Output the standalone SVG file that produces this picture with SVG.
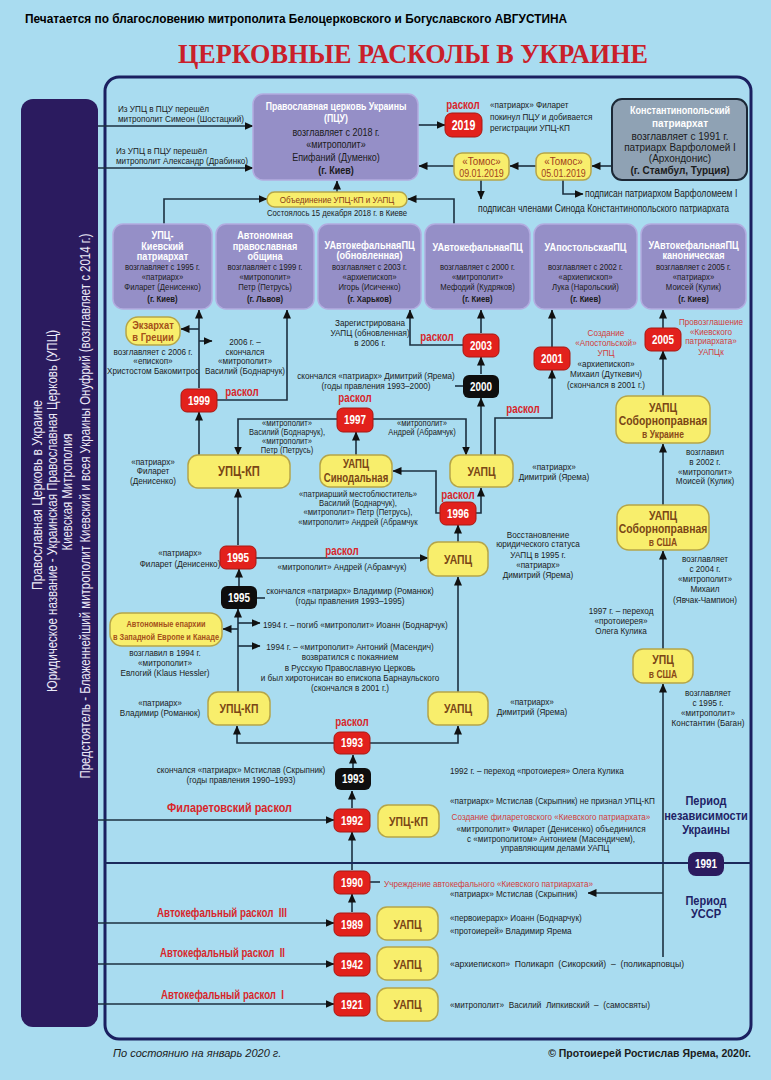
<svg xmlns="http://www.w3.org/2000/svg" width="771" height="1080" viewBox="0 0 771 1080">
<defs>
<marker id="ah" markerWidth="9" markerHeight="8" refX="8.5" refY="4" orient="auto" markerUnits="userSpaceOnUse"><path d="M0,0 L9,4 L0,8 z" fill="#111"/></marker>
</defs>
<style>
text{font-family:"Liberation Sans Narrow","Liberation Sans",Arial,sans-serif;}
.s,.sl,.rs,.m,.bt,.yt,.ys,.nt,.rk,.pn,.tm{transform-box:fill-box;transform-origin:center}
.s{font-size:9.5px;fill:#1b1b1b;text-anchor:middle;transform:scaleX(.86)}
.sl{font-size:9.5px;fill:#1b1b1b;transform:scaleX(.86);transform-origin:left center}
.m{font-size:10px;fill:#1b1b1b;text-anchor:middle;transform:scaleX(.9)}
.bt{font-size:11px;font-weight:bold;fill:#fff;text-anchor:middle;transform:scaleX(.83)}
.bk{font-weight:bold}
.yt{font-size:13px;font-weight:bold;fill:#7a4616;text-anchor:middle;transform:scaleX(.8)}
.ys{font-size:10px;font-weight:bold;fill:#8a4a18;text-anchor:middle;transform:scaleX(.85)}
.nt{font-size:13px;font-weight:bold;fill:#fff;text-anchor:middle;transform:scaleX(.76)}
.rk{font-size:12.5px;font-weight:bold;fill:#d8262a;text-anchor:middle;transform:scaleX(.78)}
.rs{font-size:9.5px;fill:#d23c3c;text-anchor:middle;transform:scaleX(.86)}
.st{text-anchor:start;transform-origin:left center}
.pn{font-size:12px;font-weight:bold;fill:#1f2366;text-anchor:middle;transform:scaleX(.92)}
.vt{font-size:14px;fill:#ebe9f7;text-anchor:middle}
.tm{font-size:11.5px;font-weight:normal;fill:#a0401c;text-anchor:middle;transform:scaleX(.85)}
.nx{transform:none}
.pb{fill:#958fc7;stroke:#b2ace0;stroke-width:1.5}
.yb{fill:#f8ee6c;stroke:#b5a548;stroke-width:1.5}
.rb{fill:#e2211c;stroke:#a81812;stroke-width:1}
.kb{fill:#0e0e0e}
.c{fill:none;stroke:#1c3040;stroke-width:1.6}
.ca{fill:none;stroke:#1c3040;stroke-width:1.6;marker-end:url(#ah)}
</style>
<rect width="771" height="1080" fill="#a9dcf0"/>
<text x="296" y="23" font-size="12" font-weight="bold" text-anchor="middle" textLength="542" lengthAdjust="spacingAndGlyphs" style="font-family:'Liberation Sans',Arial,sans-serif">Печатается по благословению митрополита Белоцерковского и Богуславского АВГУСТИНА</text>
<text x="413" y="63" font-size="28" font-weight="bold" fill="#c9202a" text-anchor="middle" textLength="470" lengthAdjust="spacingAndGlyphs" style="font-family:'Liberation Serif','Times New Roman',serif">ЦЕРКОВНЫЕ РАСКОЛЫ В УКРАИНЕ</text>

<rect x="105" y="77" width="646" height="962" rx="14" fill="none" stroke="#1b2060" stroke-width="3"/>

<g id="panel">
<rect x="21" y="99" width="77" height="928" rx="12" fill="#2b1b5f"/>
<text class="vt" transform="translate(42,495) rotate(-90)" textLength="190" lengthAdjust="spacingAndGlyphs">Православная Церковь в Украине</text>
<text class="vt" transform="translate(57,511) rotate(-90)" textLength="362" lengthAdjust="spacingAndGlyphs">Юридическое название - Украинская Православная Церковь (УПЦ)</text>
<text class="vt" transform="translate(72,492) rotate(-90)" textLength="117" lengthAdjust="spacingAndGlyphs">Киевская Митрополия</text>
<text class="vt" transform="translate(90,506) rotate(-90)" textLength="545" lengthAdjust="spacingAndGlyphs">Предстоятель - Блаженнейший митрополит Киевский и всея Украины Онуфрий (возглавляет с 2014 г.)</text>
</g>

<g id="connectors">
<path class="ca" d="M98,126 H253"/>
<path class="ca" d="M98,168 H253"/>
<path class="ca" d="M418,125 H445"/>
<path class="ca" d="M612,166 H592"/>
<path class="ca" d="M536,166 H510"/>
<path class="ca" d="M454,166 H419"/>
<path class="ca" d="M481,180 V199"/>
<path class="ca" d="M563,180 V194 H583"/>
<path class="ca" d="M337,192 V181"/>
<path class="ca" d="M164,224 V199 H267"/>
<path class="ca" d="M454,224 V199 H408"/>
<path class="ca" d="M199,455 V412"/>
<path class="ca" d="M199,388 V310"/>
<path class="ca" d="M199,329 H181"/>
<path class="ca" d="M199,341 H212"/>
<path class="ca" d="M217,400 H287 V310"/>
<path class="ca" d="M337,419 H238 V455"/>
<path class="ca" d="M373,419 H466 V455"/>
<path class="ca" d="M356,455 V432"/>
<path class="ca" d="M440,513 H436 V471 H393"/>
<path class="ca" d="M476,513 H481 V488"/>
<path class="ca" d="M458,542 V525"/>
<path class="ca" d="M481,455 V398"/>
<path class="ca" d="M481,374 V357"/>
<path class="ca" d="M481,333 V310"/>
<path class="ca" d="M463,345 H410 V310"/>
<path class="c" d="M455,386 H463"/>
<path class="ca" d="M495,455 V418 H552 V370"/>
<path class="ca" d="M552,347 V310"/>
<path class="ca" d="M663,328 V310"/>
<path class="ca" d="M663,396 V351"/>
<path class="ca" d="M663,505 V444"/>
<path class="ca" d="M663,649 V551"/>
<path class="ca" d="M663,957 V684"/>
<path class="ca" d="M663,893 H588"/>
<path class="ca" d="M238,545 V489"/>
<path class="ca" d="M256,558 H428"/>
<path class="ca" d="M239,586 V569"/>
<path class="c" d="M257,598 H265"/>
<path class="ca" d="M238,692 V609"/>
<path class="ca" d="M238,629 H223"/>
<path class="ca" d="M238,623 H260"/>
<path class="ca" d="M238,646 H260"/>
<path class="ca" d="M334,743 H237 V726"/>
<path class="ca" d="M370,743 H458 V726"/>
<path class="ca" d="M458,692 V577"/>
<path class="ca" d="M353,768 V755"/>
<path class="ca" d="M352,808 V791"/>
<path class="ca" d="M98,820 H334"/>
<path class="ca" d="M352,870 V832"/>
<path class="c" d="M370,882 H380"/>
<path class="ca" d="M352,912 V894"/>
<path class="ca" d="M98,923 H334"/>
<path class="ca" d="M98,964 H334"/>
<path class="ca" d="M98,1004 H334"/>
<path d="M105,863 H751" fill="none" stroke="#1b2a5c" stroke-width="2"/>
</g>

<g id="notes">
<text class="sl" x="118" y="112">Из УПЦ в ПЦУ перешёл</text>
<text class="sl" x="118" y="122">митрополит Симеон (Шостацкий)</text>
<text class="sl" x="116" y="154">Из УПЦ в ПЦУ перешёл</text>
<text class="sl" x="116" y="164">митрополит Александр (Драбинко)</text>
<text class="rk" x="463" y="109">раскол</text>
<text class="sl" x="490" y="108">«патриарх» Филарет</text>
<text class="sl" x="490" y="120">покинул ПЦУ и добивается</text>
<text class="sl" x="490" y="131">регистрации УПЦ-КП</text>
<text class="sl" x="585" y="197" style="font-size:10px">подписан патриархом Варфоломеем I</text>
<text class="sl" x="478" y="212" style="font-size:10px">подписан членами Синода Константинопольского патриархата</text>
<text class="s" x="337" y="216" style="font-size:9px">Состоялось 15 декабря 2018 г. в Киеве</text>
</g>

<g id="pcu">
<rect class="pb" x="253" y="94" width="165" height="86" rx="10"/>
<text class="bt" x="336" y="110" style="font-size:10.5px">Православная церковь Украины</text>
<text class="bt" x="336" y="122" style="font-size:10.5px">(ПЦУ)</text>
<text class="m" x="336" y="136">возглавляет с 2018 г.</text>
<text class="m" x="336" y="148">«митрополит»</text>
<text class="m" x="336" y="161">Епифаний (Думенко)</text>
<text class="m bk" x="336" y="174">(г. Киев)</text>
</g>

<g id="n2019"><rect class="rb" x="445" y="113" width="37" height="24" rx="7"/><text class="nt" x="463.5" y="130" style="font-size:14px">2019</text></g>

<g id="konst">
<rect x="612" y="99" width="135" height="81" rx="10" fill="#8fa2b4" stroke="#1c2836" stroke-width="2"/>
<text class="bt nx" x="680" y="114" style="font-size:11.5px" textLength="100" lengthAdjust="spacingAndGlyphs">Константинопольский</text>
<text class="bt nx" x="680" y="127" style="font-size:11.5px" textLength="56" lengthAdjust="spacingAndGlyphs">патриархат</text>
<text class="m nx" x="680" y="140">возглавляет с 1991 г.</text>
<text class="m nx" x="680" y="151">патриарх Варфоломей I</text>
<text class="m nx" x="680" y="162">(Архондонис)</text>
<text class="m bk nx" x="680" y="174">(г. Стамбул, Турция)</text>
</g>

<g id="tomos1"><rect class="yb" x="454" y="153" width="55" height="27" rx="8"/><text class="tm" x="481.5" y="165">«Томос»</text><text class="tm" x="481.5" y="177" style="font-size:10.5px">09.01.2019</text></g>
<g id="tomos2"><rect class="yb" x="536" y="153" width="55" height="27" rx="8"/><text class="tm" x="563.5" y="165">«Томос»</text><text class="tm" x="563.5" y="177" style="font-size:10.5px">05.01.2019</text></g>
<g id="union"><rect class="yb" x="267" y="192" width="140" height="15" rx="7.5"/><text class="ys" x="337" y="203" style="font-size:9.5px;fill:#8a3a18;font-weight:normal">Объединение УПЦ-КП и УАПЦ</text></g>

<g id="b1"><rect class="pb" x="113" y="224" width="99" height="85" rx="10"/>
<text class="bt" x="162.5" y="239">УПЦ-</text><text class="bt" x="162.5" y="250">Киевский</text><text class="bt" x="162.5" y="260">патриархат</text>
<text class="s" x="162.5" y="270" style="font-size:9px">возглавляет с 1995 г.</text><text class="s" x="162.5" y="280" style="font-size:9px">«патриарх»</text><text class="s" x="162.5" y="290" style="font-size:9px">Филарет (Денисенко)</text><text class="s bk" x="162.5" y="302" style="font-size:9px">(г. Киев)</text></g>
<g id="b2"><rect class="pb" x="216" y="224" width="98" height="85" rx="10"/>
<text class="bt" x="265" y="239">Автономная</text><text class="bt" x="265" y="250">православная</text><text class="bt" x="265" y="260">община</text>
<text class="s" x="265" y="270" style="font-size:9px">возглавляет с 1999 г.</text><text class="s" x="265" y="280" style="font-size:9px">«митрополит»</text><text class="s" x="265" y="290" style="font-size:9px">Петр (Петрусь)</text><text class="s bk" x="265" y="302" style="font-size:9px">(г. Львов)</text></g>
<g id="b3"><rect class="pb" x="318" y="224" width="103" height="85" rx="10"/>
<text class="bt" x="369.5" y="249">УАвтокефальнаяПЦ</text><text class="bt" x="369.5" y="259">(обновленная)</text>
<text class="s" x="369.5" y="270" style="font-size:9px">возглавляет с 2003 г.</text><text class="s" x="369.5" y="280" style="font-size:9px">«архиепископ»</text><text class="s" x="369.5" y="290" style="font-size:9px">Игорь (Исиченко)</text><text class="s bk" x="369.5" y="302" style="font-size:9px">(г. Харьков)</text></g>
<g id="b4"><rect class="pb" x="425" y="224" width="105" height="85" rx="10"/>
<text class="bt" x="477.5" y="251">УАвтокефальнаяПЦ</text>
<text class="s" x="477.5" y="270" style="font-size:9px">возглавляет с 2000 г.</text><text class="s" x="477.5" y="280" style="font-size:9px">«митрополит»</text><text class="s" x="477.5" y="290" style="font-size:9px">Мефодий (Кудряков)</text><text class="s bk" x="477.5" y="302" style="font-size:9px">(г. Киев)</text></g>
<g id="b5"><rect class="pb" x="534" y="224" width="103" height="85" rx="10"/>
<text class="bt" x="585.5" y="251">УАпостольскаяПЦ</text>
<text class="s" x="585.5" y="270" style="font-size:9px">возглавляет с 2002 г.</text><text class="s" x="585.5" y="280" style="font-size:9px">«архиепископ»</text><text class="s" x="585.5" y="290" style="font-size:9px">Лука (Нарольский)</text><text class="s bk" x="585.5" y="302" style="font-size:9px">(г. Киев)</text></g>
<g id="b6"><rect class="pb" x="641" y="224" width="105" height="85" rx="10"/>
<text class="bt" x="693.5" y="249">УАвтокефальнаяПЦ</text><text class="bt" x="693.5" y="259">каноническая</text>
<text class="s" x="693.5" y="270" style="font-size:9px">возглавляет с 2005 г.</text><text class="s" x="693.5" y="280" style="font-size:9px">«патриарх»</text><text class="s" x="693.5" y="290" style="font-size:9px">Моисей (Кулик)</text><text class="s bk" x="693.5" y="302" style="font-size:9px">(г. Киев)</text></g>

<g id="exarch"><rect class="yb" x="126" y="317" width="54" height="28" rx="12"/><text class="ys" x="153" y="329" style="fill:#a4501a;font-size:11px">Экзархат</text><text class="ys" x="153" y="341" style="fill:#a4501a;font-size:11px">в Греции</text></g>
<text class="s" x="153" y="355">возглавляет с 2006 г.</text>
<text class="s" x="153" y="364">«епископ»</text>
<text class="s" x="153" y="374">Христостом Бакомитрос</text>
<text class="s" x="245" y="345">2006 г. –</text>
<text class="s" x="245" y="355">скончался</text>
<text class="s" x="245" y="364">«митрополит»</text>
<text class="s" x="245" y="374">Василий (Боднарчук)</text>

<g id="n1999"><rect class="rb" x="181" y="389" width="36" height="23" rx="6"/><text class="nt" x="199" y="405">1999</text></g>
<text class="rk" x="242" y="396">раскол</text>

<text class="s" x="370" y="326">Зарегистрирована</text>
<text class="s" x="370" y="336">УАПЦ (обновленная)</text>
<text class="s" x="370" y="346">в 2006 г.</text>
<text class="rk" x="437" y="341">раскол</text>
<g id="n2003"><rect class="rb" x="463" y="334" width="36" height="23" rx="6"/><text class="nt" x="481" y="350">2003</text></g>
<text class="s" x="376" y="379">скончался «патриарх» Димитрий (Ярема)</text>
<text class="s" x="376" y="389">(годы правления 1993–2000)</text>
<g id="n2000"><rect class="kb" x="463" y="375" width="36" height="23" rx="6"/><text class="nt" x="481" y="391">2000</text></g>

<g id="n2001"><rect class="rb" x="534" y="347" width="36" height="23" rx="6"/><text class="nt" x="552" y="363">2001</text></g>
<text class="rs" x="606" y="336">Создание</text>
<text class="rs" x="606" y="346">«Апостольской»</text>
<text class="rs" x="606" y="356">УПЦ</text>
<text class="s" x="606" y="367">«архиепископ»</text>
<text class="s" x="606" y="377">Михаил (Дуткевич)</text>
<text class="s" x="606" y="388">(скончался в 2001 г.)</text>
<text class="rk" x="523" y="413">раскол</text>

<g id="n2005"><rect class="rb" x="645" y="328" width="36" height="23" rx="6"/><text class="nt" x="663" y="344">2005</text></g>
<text class="rs" x="711" y="325">Провозглашение</text>
<text class="rs" x="711" y="335">«Киевского</text>
<text class="rs" x="711" y="344">патриархата»</text>
<text class="rs" x="711" y="355">УАПЦк</text>

<g id="sobukr"><rect class="yb" x="616" y="396" width="94" height="47" rx="12"/><text class="yt" x="663" y="412">УАПЦ</text><text class="yt" x="663" y="425">Соборноправная</text><text class="ys" x="663" y="438">в Украине</text></g>
<text class="s" x="705" y="455">возглавил</text>
<text class="s" x="705" y="465">в 2002 г.</text>
<text class="s" x="705" y="475">«митрополит»</text>
<text class="s" x="705" y="484">Моисей (Кулик)</text>

<g id="n1997"><rect class="rb" x="337" y="408" width="36" height="24" rx="6"/><text class="nt" x="355" y="424">1997</text></g>
<text class="rk" x="355" y="402">раскол</text>
<text class="s" x="287" y="426" style="font-size:8.8px">«митрополит»</text>
<text class="s" x="287" y="435" style="font-size:8.8px">Василий (Боднарчук),</text>
<text class="s" x="287" y="444" style="font-size:8.8px">«митрополит»</text>
<text class="s" x="287" y="453" style="font-size:8.8px">Петр (Петрусь)</text>
<text class="s" x="422" y="426" style="font-size:8.8px">«митрополит»</text>
<text class="s" x="422" y="435" style="font-size:8.8px">Андрей (Абрамчук)</text>

<text class="s" x="153" y="465">«патриарх»</text>
<text class="s" x="153" y="474">Филарет</text>
<text class="s" x="153" y="484">(Денисенко)</text>
<g id="upckp1"><rect class="yb" x="188" y="455" width="102" height="33" rx="10"/><text class="yt" x="239" y="476" style="font-size:14px">УПЦ-КП</text></g>
<g id="synod"><rect class="yb" x="320" y="455" width="72" height="32" rx="10"/><text class="yt" x="356" y="468" style="font-size:12px">УАПЦ</text><text class="yt" x="356" y="482" style="font-size:12px">Синодальная</text></g>
<g id="uapc1"><rect class="yb" x="450" y="455" width="63" height="32" rx="10"/><text class="yt" x="481.5" y="476">УАПЦ</text></g>
<text class="s" x="554" y="470">«патриарх»</text>
<text class="s" x="554" y="480">Димитрий (Ярема)</text>

<text class="s" x="358" y="497" style="font-size:9px">«патриарший местоблюститель»</text>
<text class="s" x="358" y="506" style="font-size:9px">Василий (Боднарчук),</text>
<text class="s" x="358" y="515" style="font-size:9px">«митрополит» Петр (Петрусь),</text>
<text class="s" x="358" y="525" style="font-size:9px">«митрополит» Андрей (Абрамчук</text>
<text class="rk" x="458" y="499">раскол</text>
<g id="n1996"><rect class="rb" x="440" y="502" width="36" height="23" rx="6"/><text class="nt" x="458" y="518">1996</text></g>

<g id="sobusa"><rect class="yb" x="617" y="505" width="92" height="45" rx="12"/><text class="yt" x="663" y="520">УАПЦ</text><text class="yt" x="663" y="533">Соборноправная</text><text class="ys" x="663" y="546">в США</text></g>

<text class="s" x="538" y="538">Восстановление</text>
<text class="s" x="538" y="547">юридического статуса</text>
<text class="s" x="538" y="558">УАПЦ в 1995 г.</text>
<text class="s" x="538" y="568">«патриарх»</text>
<text class="s" x="538" y="578">Димитрий (Ярема)</text>

<text class="s" x="180" y="556">«патриарх»</text>
<text class="s" x="180" y="567">Филарет (Денисенко)</text>
<g id="n1995r"><rect class="rb" x="220" y="546" width="36" height="23" rx="6"/><text class="nt" x="238" y="562">1995</text></g>
<text class="rk" x="342" y="555">раскол</text>
<text class="s" x="342" y="570">«митрополит» Андрей (Абрамчук)</text>
<g id="uapc2"><rect class="yb" x="428" y="542" width="60" height="34" rx="10"/><text class="yt" x="458" y="564">УАПЦ</text></g>

<text class="s" x="705" y="562">возглавляет</text>
<text class="s" x="705" y="572">с 2004 г.</text>
<text class="s" x="705" y="582">«митрополит»</text>
<text class="s" x="705" y="592">Михаил</text>
<text class="s" x="705" y="603">(Явчак-Чампион)</text>

<g id="n1995k"><rect class="kb" x="221" y="586" width="36" height="23" rx="6"/><text class="nt" x="239" y="602">1995</text></g>
<text class="s" x="350" y="594">скончался «патриарх» Владимир (Романюк)</text>
<text class="s" x="350" y="604">(годы правления 1993–1995)</text>

<text class="s" x="621" y="614">1997 г. – переход</text>
<text class="s" x="621" y="624">«протоиерея»</text>
<text class="s" x="621" y="634">Олега Кулика</text>

<g id="autep"><rect class="yb" x="110" y="613" width="112" height="33" rx="12"/><text class="ys nx" x="166" y="627" style="font-size:9px;fill:#a4501a" textLength="79" lengthAdjust="spacingAndGlyphs">Автономные епархии</text><text class="ys nx" x="166" y="640" style="font-size:9px;fill:#a4501a" textLength="106" lengthAdjust="spacingAndGlyphs">в Западной Европе и Канаде</text></g>
<text class="sl" x="263" y="628">1994 г. – погиб «митрополит» Иоанн (Боднарчук)</text>
<text class="s" x="350" y="650">1994 г. – «митрополит» Антоний (Масендич)</text>
<text class="s" x="350" y="660">возвратился с покаянием</text>
<text class="s" x="350" y="671">в Русскую Православную Церковь</text>
<text class="s" x="350" y="681">и был хиротонисан во епископа Барнаульского</text>
<text class="s" x="350" y="691">(скончался в 2001 г.)</text>
<text class="s" x="165" y="656">возглавил в 1994 г.</text>
<text class="s" x="165" y="666">«митрополит»</text>
<text class="s" x="165" y="676">Евлогий (Klaus Hessler)</text>

<g id="upcusa"><rect class="yb" x="633" y="649" width="60" height="34" rx="10"/><text class="yt" x="663" y="664">УПЦ</text><text class="ys" x="663" y="678">в США</text></g>
<text class="s" x="708" y="696">возглавляет</text>
<text class="s" x="708" y="706">с 1995 г.</text>
<text class="s" x="708" y="716">«митрополит»</text>
<text class="s" x="708" y="726">Константин (Баган)</text>

<text class="s" x="160" y="706">«патриарх»</text>
<text class="s" x="160" y="716">Владимир (Романюк)</text>
<g id="upckp2"><rect class="yb" x="208" y="692" width="62" height="33" rx="10"/><text class="yt" x="239" y="713">УПЦ-КП</text></g>
<g id="uapc3"><rect class="yb" x="428" y="692" width="60" height="33" rx="10"/><text class="yt" x="458" y="713">УАПЦ</text></g>
<text class="s" x="532" y="705">«патриарх»</text>
<text class="s" x="532" y="715">Димитрий (Ярема)</text>

<text class="rk" x="352" y="726">раскол</text>
<g id="n1993r"><rect class="rb" x="334" y="732" width="36" height="22" rx="6"/><text class="nt" x="352" y="747">1993</text></g>
<g id="n1993k"><rect class="kb" x="335" y="768" width="36" height="22" rx="6"/><text class="nt" x="353" y="783">1993</text></g>
<text class="s" x="241" y="773">скончался «патриарх» Мстислав (Скрыпник)</text>
<text class="s" x="241" y="783">(годы правления 1990–1993)</text>
<text class="sl" x="450" y="774">1992 г. – переход «протоиерея» Олега Кулика</text>
<text class="sl" x="450" y="804">«патриарх» Мстислав (Скрыпник) не признал УПЦ-КП</text>

<text class="pn" x="706" y="805">Период</text>
<text class="pn" x="706" y="820">независимости</text>
<text class="pn" x="706" y="834">Украины</text>

<text class="rk nx" x="167" y="812" style="text-anchor:start;font-size:12.5px" textLength="125" lengthAdjust="spacingAndGlyphs">Филаретовский раскол</text>
<g id="n1992"><rect class="rb" x="334" y="809" width="36" height="23" rx="6"/><text class="nt" x="352" y="825">1992</text></g>
<g id="upckp3"><rect class="yb" x="378" y="805" width="61" height="32" rx="10"/><text class="yt" x="408.5" y="826">УПЦ-КП</text></g>
<text class="rs" x="551" y="820">Создание филаретовского «Киевского патриархата»</text>
<text class="s" x="551" y="832">«митрополит» Филарет (Денисенко) объединился</text>
<text class="s" x="551" y="842">с «митрополитом» Антонием (Масендичем),</text>
<text class="s" x="555" y="851">управляющим делами УАПЦ</text>

<g id="n1991"><rect x="688" y="852" width="36" height="24" rx="8" fill="#2b1b5f"/><text class="nt" x="706" y="868">1991</text></g>
<text class="pn" x="706" y="905">Период</text>
<text class="pn" x="706" y="918">УССР</text>

<g id="n1990"><rect class="rb" x="334" y="871" width="36" height="23" rx="6"/><text class="nt" x="352" y="887">1990</text></g>
<text class="rs st" x="384" y="887">Учреждение автокефального «Киевского патриархата»</text>
<text class="sl" x="450" y="897">«патриарх» Мстислав (Скрыпник)</text>

<text class="rk nx" x="157" y="917" style="text-anchor:start;font-size:12.5px" textLength="130" lengthAdjust="spacingAndGlyphs" xml:space="preserve">Автокефальный раскол  III</text>
<g id="n1989"><rect class="rb" x="334" y="913" width="36" height="23" rx="6"/><text class="nt" x="352" y="929">1989</text></g>
<g id="uapc1989"><rect class="yb" x="377" y="907" width="61" height="33" rx="10"/><text class="yt" x="407.5" y="929">УАПЦ</text></g>
<text class="sl" x="450" y="921">«первоиерарх» Иоанн (Боднарчук)</text>
<text class="sl" x="450" y="934">«протоиерей» Владимир Ярема</text>

<text class="rk nx" x="160" y="957" style="text-anchor:start;font-size:12.5px" textLength="125" lengthAdjust="spacingAndGlyphs" xml:space="preserve">Автокефальный раскол  II</text>
<g id="n1942"><rect class="rb" x="334" y="953" width="36" height="23" rx="6"/><text class="nt" x="352" y="969">1942</text></g>
<g id="uapc1942"><rect class="yb" x="377" y="947" width="61" height="33" rx="10"/><text class="yt" x="407.5" y="969">УАПЦ</text></g>
<text class="sl nx" x="450" y="967" textLength="234" lengthAdjust="spacingAndGlyphs" xml:space="preserve">«архиепископ»  Поликарп  (Сикорский)  –  (поликарповцы)</text>

<text class="rk nx" x="161" y="999" style="text-anchor:start;font-size:12.5px" textLength="123" lengthAdjust="spacingAndGlyphs" xml:space="preserve">Автокефальный раскол  I</text>
<g id="n1921"><rect class="rb" x="334" y="993" width="36" height="23" rx="6"/><text class="nt" x="352" y="1009">1921</text></g>
<g id="uapc1921"><rect class="yb" x="377" y="988" width="61" height="33" rx="10"/><text class="yt" x="407.5" y="1009">УАПЦ</text></g>
<text class="sl nx" x="450" y="1008" textLength="200" lengthAdjust="spacingAndGlyphs" xml:space="preserve">«митрополит»  Василий  Липкивский  –  (самосвяты)</text>

<text x="113" y="1057" font-size="11" font-style="italic" fill="#1b1b1b" style="font-family:'Liberation Sans',Arial,sans-serif">По состоянию на январь 2020 г.</text>
<text x="751" y="1057" font-size="10.5" font-weight="bold" fill="#1b1b1b" text-anchor="end" style="font-family:'Liberation Sans',Arial,sans-serif">© Протоиерей Ростислав Ярема, 2020г.</text>
</svg>
